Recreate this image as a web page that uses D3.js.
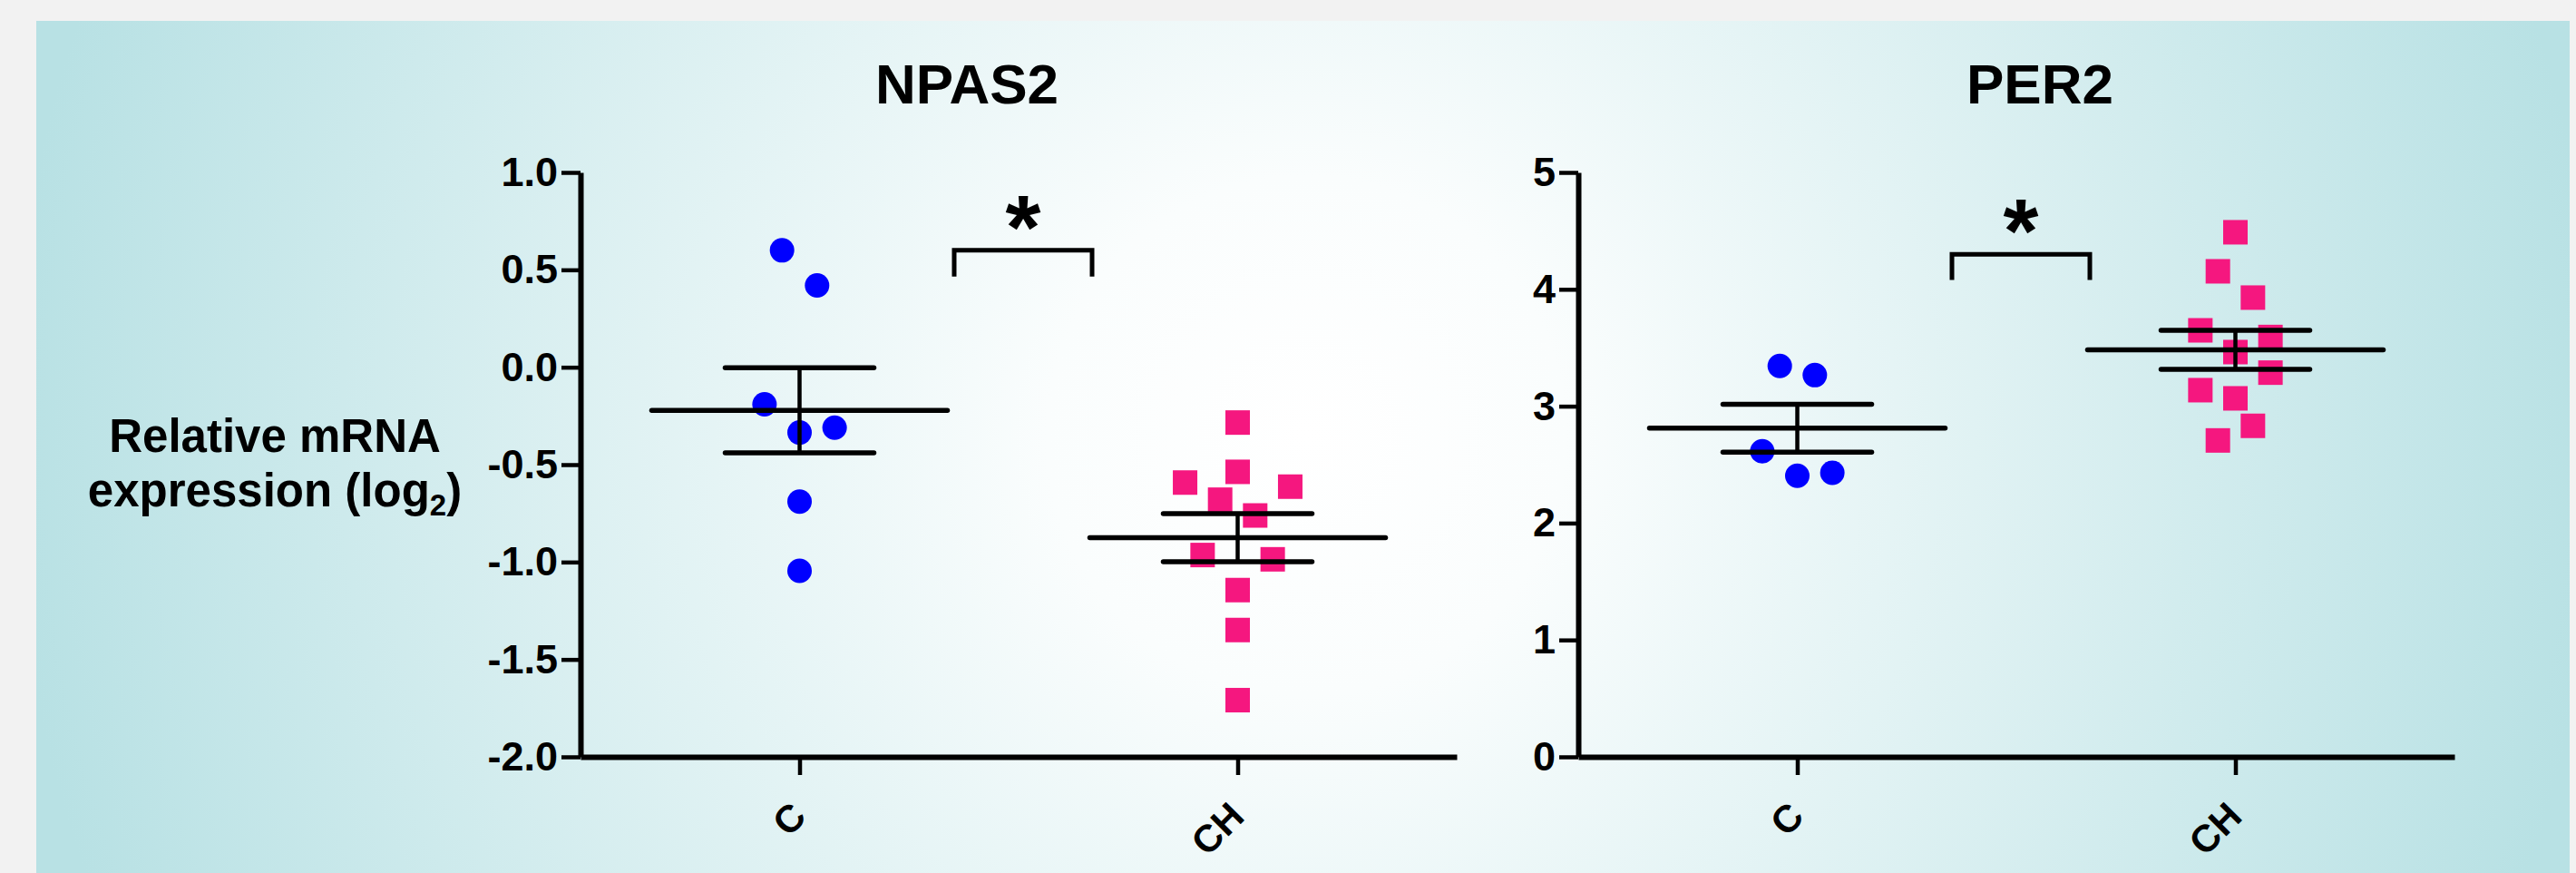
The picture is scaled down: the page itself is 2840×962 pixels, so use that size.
<!DOCTYPE html>
<html>
<head>
<meta charset="utf-8">
<script src="https://cdn.jsdelivr.net/npm/d3@7"></script>
<style>
  body { margin: 0; background: #f2f2f2; }
  svg { display: block; }
</style>
</head>
<body>
<script>
const width = 2840
const height = 962

// values
const groups = ["C", "CH"]
const npas2C = [0.60, 0.42, -0.19, -0.335, -0.31, -0.69, -1.045]
const npas2CH = [-0.284, -0.537, -0.592, -0.68, -0.613, -0.761, -0.964, -0.986, -1.144, -1.349, -1.709]
const per2C = [3.344, 3.266, 2.614, 2.405, 2.430]
const per2CH = [4.488, 4.154, 3.929, 3.649, 3.592, 3.463, 3.287, 3.137, 3.067, 2.832, 2.707]

// column slot of each dot in the scatter (so dots don't overlap)
const npas2CLane = [-1, 1, -2, 0, 2, 0, 0]
const npas2CHLane = [0, 0, -3, -1, 3, 1, -2, 2, 0, 0, 0]
const per2CLane = [-1, 1, -2, 0, 2]
const per2CHLane = [0, -1, 1, -2, 2, 0, 2, -2, 0, 1, -1]

const npas2Ticks = [-2.0, -1.5, -1.0, -0.5, 0.0, 0.5, 1.0]
const per2Ticks = [0, 1, 2, 3, 4, 5]

const blue = "#0000ff"
const pink = "#f5177f"
const font = "'Liberation Sans', Arial, sans-serif"

const svg = d3.select("body").append("svg")
    .attr("width", width)
    .attr("height", height)

// background panel: white in the middle, teal towards the sides
const grad = svg.append("defs").append("radialGradient")
    .attr("id", "bg")
    .attr("gradientUnits", "userSpaceOnUse")
    .attr("cx", 1440).attr("cy", 480).attr("r", 1430)
grad.append("stop").attr("offset", 0).attr("stop-color", "#ffffff")
grad.append("stop").attr("offset", 0.2).attr("stop-color", "#fafdfd")
grad.append("stop").attr("offset", 1).attr("stop-color", "#b8e1e4")

svg.append("rect")
    .attr("x", 40).attr("y", 23)
    .attr("width", 2793).attr("height", height - 23)
    .attr("fill", "url(#bg)")

function sem(a) { return d3.deviation(a) / Math.sqrt(a.length) }

const panels = [
    { title: "NPAS2", titleX: 1066, left: 640, domain: [-2, 1], ticks: npas2Ticks, fmt: d => d.toFixed(1),
      series: [npas2C, npas2CH], lanes: [npas2CLane, npas2CHLane], sig: [0.6, 0.465] },
    { title: "PER2", titleX: 2249, left: 1740, domain: [0, 5], ticks: per2Ticks, fmt: d => String(d),
      series: [per2C, per2CH], lanes: [per2CLane, per2CHLane], sig: [4.3, 4.08] }
]

const plotTop = 190, plotBottom = 834, plotW = 966

panels.forEach(p => {
    const g = svg.append("g")

    const x = d3.scalePoint().domain(groups).range([p.left, p.left + plotW]).padding(0.5)
    const y = d3.scaleLinear().domain(p.domain).range([plotBottom, plotTop])
    const lane = x.step() * 0.04

    // title
    g.append("text")
        .attr("x", p.titleX).attr("y", 114)
        .attr("text-anchor", "middle")
        .attr("font-family", font).attr("font-weight", "bold").attr("font-size", 62)
        .text(p.title)

    // points
    p.series.forEach((vals, gi) => {
        const pts = vals.map((v, i) => ({ v, lane: p.lanes[gi][i] }))
        if (gi === 0) {
            g.append("g").selectAll("circle")
                .data(pts).join("circle")
                .attr("cx", d => x(groups[gi]) + d.lane * lane)
                .attr("cy", d => y(d.v))
                .attr("r", 13.5)
                .attr("fill", blue)
        } else {
            g.append("g").selectAll("rect")
                .data(pts).join("rect")
                .attr("x", d => x(groups[gi]) + d.lane * lane - 13.5)
                .attr("y", d => y(d.v) - 13.5)
                .attr("width", 27).attr("height", 27)
                .attr("fill", pink)
        }
    })

    // mean +- SEM
    p.series.forEach((vals, gi) => {
        const cx = x(groups[gi])
        const m = d3.mean(vals), s = sem(vals)
        const eg = g.append("g")
            .attr("stroke", "#000").attr("stroke-linecap", "round").attr("fill", "none")
        eg.append("line").attr("x1", cx - 163).attr("x2", cx + 163)
            .attr("y1", y(m)).attr("y2", y(m)).attr("stroke-width", 5.5)
        eg.append("line").attr("x1", cx - 82).attr("x2", cx + 82)
            .attr("y1", y(m + s)).attr("y2", y(m + s)).attr("stroke-width", 5.5)
        eg.append("line").attr("x1", cx - 82).attr("x2", cx + 82)
            .attr("y1", y(m - s)).attr("y2", y(m - s)).attr("stroke-width", 5.5)
        eg.append("line").attr("x1", cx).attr("x2", cx)
            .attr("y1", y(m + s)).attr("y2", y(m - s))
            .attr("stroke-width", 4.5).attr("stroke-linecap", "butt")
    })

    // significance bracket
    const mid = (x(groups[0]) + x(groups[1])) / 2 + 5
    g.append("path")
        .attr("d", `M${mid - 76},${y(p.sig[1])}V${y(p.sig[0])}H${mid + 76}V${y(p.sig[1])}`)
        .attr("fill", "none").attr("stroke", "#000").attr("stroke-width", 5)
    g.append("text")
        .attr("x", mid).attr("y", y(p.sig[0]) + 9)
        .attr("text-anchor", "middle")
        .attr("font-family", font).attr("font-weight", "bold").attr("font-size", 100)
        .text("*")

    // y axis
    const ya = g.append("g")
        .attr("transform", `translate(${p.left},0)`)
        .call(d3.axisLeft(y).tickValues(p.ticks).tickFormat(p.fmt).tickSize(21).tickSizeOuter(0))
    ya.select(".domain").attr("stroke-width", 6)
    ya.selectAll(".tick line").attr("stroke-width", 4.5)
    ya.selectAll(".tick text")
        .attr("x", -25)
        .attr("font-family", font).attr("font-weight", "bold").attr("font-size", 45)
        .attr("fill", "#000")

    // x axis
    const xa = g.append("g")
        .attr("transform", `translate(0,${plotBottom})`)
        .call(d3.axisBottom(x).tickSize(20).tickSizeOuter(0))
    xa.select(".domain").attr("stroke-width", 6)
    xa.selectAll(".tick line").attr("stroke-width", 4.5)
    xa.selectAll(".tick text")
        .attr("y", 0).attr("dy", 0)
        .attr("transform", "translate(9,68) rotate(-45)")
        .attr("text-anchor", "end")
        .attr("font-family", font).attr("font-weight", "bold").attr("font-size", 42)
        .attr("fill", "#000")
})

// shared y axis label
const yl = svg.append("text")
    .attr("text-anchor", "middle")
    .attr("font-family", font).attr("font-weight", "bold").attr("font-size", 51)
yl.append("tspan").attr("x", 303).attr("y", 498).text("Relative mRNA")
const l2 = yl.append("tspan").attr("x", 303).attr("y", 558)
l2.append("tspan").text("expression (log")
l2.append("tspan").attr("font-size", 33).attr("dy", 10).text("2")
l2.append("tspan").attr("dy", -10).text(")")
</script>
</body>
</html>
